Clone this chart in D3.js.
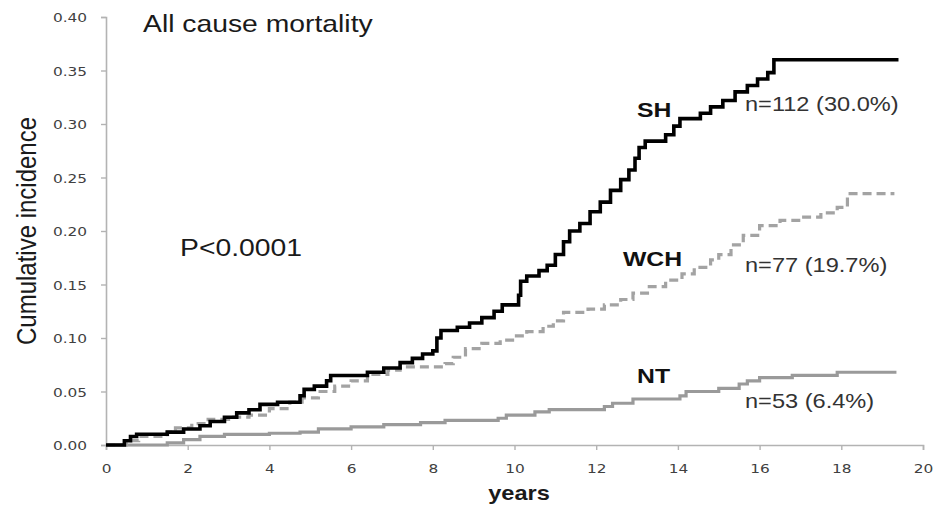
<!DOCTYPE html>
<html>
<head>
<meta charset="utf-8">
<script src="https://cdn.jsdelivr.net/npm/d3@7"></script>
<style>
  html, body { margin: 0; padding: 0; background: #fff; }
  svg { display: block; }
</style>
</head>
<body>
<svg id="chart" width="934" height="507"></svg>
<script>
// Cumulative incidence of all-cause mortality by blood-pressure group (step functions)
const shTimes  = [0, 0.45, 0.6, 0.75, 1.5, 1.9, 2.3, 2.55, 2.9, 3.2, 3.5, 3.77, 4.2, 4.75, 4.85, 5.1, 5.4, 5.5, 6.4, 6.8, 7.2, 7.5, 7.75, 8.0, 8.1, 8.2, 8.6, 8.9, 9.2, 9.5, 9.7, 10.1, 10.15, 10.3, 10.6, 10.8, 11.0, 11.2, 11.35, 11.6, 11.85, 12.1, 12.35, 12.6, 12.8, 12.95, 13.05, 13.2, 13.7, 13.9, 14.05, 14.55, 14.8, 15.1, 15.4, 15.7, 15.95, 16.2, 16.35, 19.4];
const shValues = [0, 0.004, 0.008, 0.010, 0.012, 0.015, 0.018, 0.022, 0.026, 0.030, 0.033, 0.038, 0.040, 0.046, 0.052, 0.055, 0.060, 0.065, 0.068, 0.072, 0.077, 0.081, 0.085, 0.088, 0.100, 0.107, 0.110, 0.114, 0.119, 0.125, 0.131, 0.140, 0.153, 0.158, 0.163, 0.168, 0.178, 0.190, 0.200, 0.207, 0.218, 0.227, 0.238, 0.248, 0.257, 0.268, 0.278, 0.284, 0.290, 0.298, 0.305, 0.310, 0.316, 0.322, 0.330, 0.336, 0.342, 0.348, 0.360, 0.360];

const wchTimes  = [0, 0.5, 0.8, 1.5, 1.7, 2.1, 2.5, 3.0, 3.5, 4.0, 4.5, 4.8, 5.2, 5.6, 6.0, 6.4, 6.9, 7.2, 8.3, 8.5, 8.8, 9.2, 9.65, 10.0, 10.3, 10.7, 10.95, 11.2, 11.8, 12.2, 12.6, 12.9, 13.3, 13.7, 14.1, 14.4, 14.8, 15.0, 15.3, 15.6, 16.0, 16.5, 17.0, 17.5, 17.9, 18.15, 19.3];
const wchValues = [0, 0.004, 0.008, 0.012, 0.016, 0.020, 0.024, 0.026, 0.028, 0.034, 0.040, 0.044, 0.050, 0.055, 0.060, 0.066, 0.070, 0.073, 0.076, 0.082, 0.090, 0.095, 0.098, 0.102, 0.106, 0.111, 0.116, 0.124, 0.127, 0.131, 0.136, 0.142, 0.148, 0.154, 0.160, 0.166, 0.173, 0.178, 0.187, 0.196, 0.205, 0.210, 0.213, 0.217, 0.222, 0.235, 0.235];

const ntTimes  = [0, 1.5, 1.9, 2.3, 2.9, 4.0, 4.75, 5.2, 6.0, 6.8, 7.7, 8.3, 9.6, 9.8, 10.5, 10.85, 12.2, 12.4, 12.9, 14.05, 14.2, 15.0, 15.5, 15.7, 16.0, 16.8, 17.9, 19.35];
const ntValues = [0, 0.002, 0.005, 0.008, 0.010, 0.011, 0.012, 0.015, 0.017, 0.019, 0.021, 0.023, 0.025, 0.028, 0.031, 0.033, 0.036, 0.039, 0.043, 0.046, 0.050, 0.053, 0.057, 0.060, 0.063, 0.065, 0.068, 0.068];

const xTicks = [0, 2, 4, 6, 8, 10, 12, 14, 16, 18, 20];
const yTicks = [0, 0.05, 0.10, 0.15, 0.20, 0.25, 0.30, 0.35, 0.40];

const groupNames = ["SH", "WCH", "NT"];
const groupCounts = ["n=112 (30.0%)", "n=77 (19.7%)", "n=53 (6.4%)"];

const titleText = "All cause mortality";
const pText = "P<0.0001";
const xTitle = "years";
const yTitle = "Cumulative incidence";

// lettering in this figure is slightly wide
const STRETCH = 1.18;
const sans = "'Liberation Sans', Arial, sans-serif";

const svg = d3.select("#chart");
const x = d3.scaleLinear().domain([0, 20]).range([106, 923]);
const y = d3.scaleLinear().domain([0, 0.4]).range([445, 17]);

// axes
const axisColor = "#b3b3b3";
const yAxis = svg.append("g")
  .attr("transform", `translate(${x(0)},0)`)
  .call(d3.axisLeft(y).tickValues(yTicks).tickSize(5).tickFormat(d3.format(".2f")));
const xAxis = svg.append("g")
  .attr("transform", `translate(0,${y(0)})`)
  .call(d3.axisBottom(x).tickValues(xTicks).tickSize(5).tickFormat(d3.format("d")));

[yAxis, xAxis].forEach(g => {
  g.select(".domain").attr("stroke", axisColor).attr("stroke-width", 1.6);
  g.selectAll(".tick line").attr("stroke", axisColor).attr("stroke-width", 1.4);
  g.selectAll(".tick text")
    .attr("fill", "#404040")
    .style("font-family", "'DejaVu Sans', Verdana, sans-serif")
    .style("font-size", "13px");
});
yAxis.selectAll(".tick text")
  .attr("x", null).attr("dy", null).attr("text-anchor", "end")
  .attr("transform", `translate(-19,4.5) scale(${STRETCH},1)`);
xAxis.selectAll(".tick text")
  .attr("y", null).attr("dy", null)
  .attr("transform", `translate(0,28) scale(${STRETCH},1)`);

// step curves
const line = d3.line()
  .x(d => x(d[0]))
  .y(d => y(d[1]))
  .curve(d3.curveStepAfter);

const series = [
  { t: ntTimes,  v: ntValues,  color: "#9a9a9a", width: 3.2, dash: null },
  { t: wchTimes, v: wchValues, color: "#a3a3a3", width: 3.2, dash: "9,5" },
  { t: shTimes,  v: shValues,  color: "#000000", width: 3.6, dash: null }
];
series.forEach(s => {
  svg.append("path")
    .datum(d3.zip(s.t, s.v))
    .attr("d", line)
    .attr("fill", "none")
    .attr("stroke", s.color)
    .attr("stroke-width", s.width)
    .attr("stroke-dasharray", s.dash)
    .attr("stroke-linejoin", "miter");
});

// text helper: wide lettering placed with a transform
function txt(px, py, str, size, opts = {}) {
  return svg.append("text")
    .attr("transform", `translate(${px},${py}) scale(${STRETCH},1)`)
    .attr("text-anchor", opts.anchor || "start")
    .attr("fill", opts.fill || "#1a1a1a")
    .style("font-family", sans)
    .style("font-size", size + "px")
    .style("font-weight", opts.bold ? "bold" : "normal")
    .text(str);
}

txt(143, 32, titleText, 24);
txt(180, 256, pText, 24);
txt(519, 500, xTitle, 20, { anchor: "middle", bold: true });

svg.append("text")
  .attr("transform", `translate(36,231) rotate(-90) scale(1,${STRETCH})`)
  .attr("text-anchor", "middle")
  .attr("fill", "#1a1a1a")
  .style("font-family", sans)
  .style("font-size", "24px")
  .text(yTitle);

// group labels
const nameX = [637, 623, 637];
const nameY = [117, 266, 383];
const countY = [111, 272, 408];
groupNames.forEach((n, i) => {
  txt(nameX[i], nameY[i], n, 21, { bold: true, fill: "#111" });
  txt(745, countY[i], groupCounts[i], 20, { fill: "#333" });
});
</script>
</body>
</html>
